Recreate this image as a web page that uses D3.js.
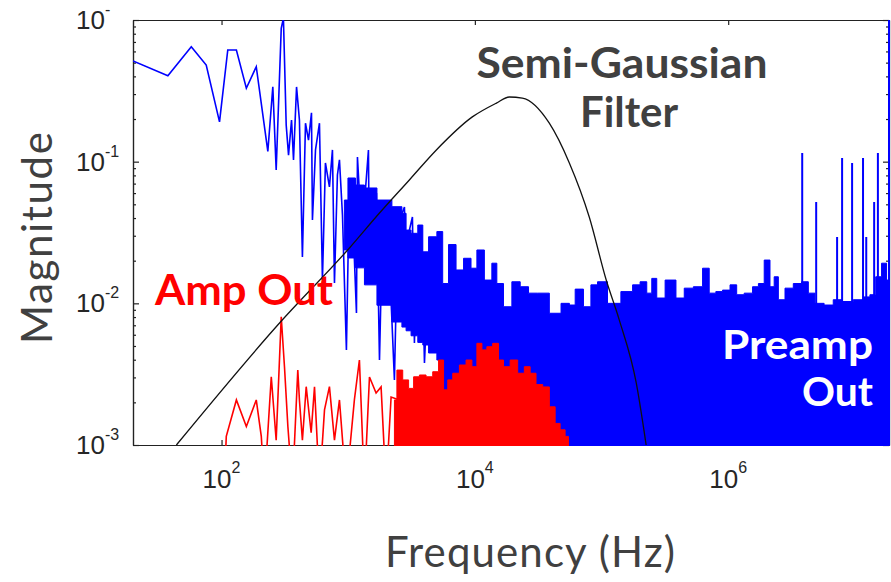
<!DOCTYPE html>
<html lang="en">
<head>
<meta charset="UTF-8">
<title>Magnitude vs Frequency</title>
<script src="https://d3js.org/d3.v7.min.js"></script>
<style>
  body { margin: 0; background: #fff; }
  svg text { font-family: Lato, "Open Sans", sans-serif; }
  .tick-label { font-family: "Liberation Sans", Arial, sans-serif; fill: #262626; }
</style>
</head>
<body>
<svg id="chart" width="891" height="582"></svg>
<script>
// Preamp output: sparse line part (Hz, magnitude)
const preampLineFreq = [20, 37.7, 57.7, 75.7, 96.4, 112, 131, 157, 188, 232, 254, 270, 296, 308, 324, 338, 357, 370, 391, 412,
  435, 460, 486, 513, 522, 552, 593, 626, 661, 711, 751, 779, 822, 853, 901, 968, 1023, 1081, 1162, 1183,
  1273, 1368, 1445, 1472, 1552, 1672, 1766, 1862, 1932, 2113, 2317, 2448, 2633, 2780, 2884, 3042, 3214, 3333, 3519, 3785,
  4000, 4375];
const preampLineMag = [0.514, 0.404, 0.648, 0.481, 0.191, 0.614, 0.614, 0.330, 0.468, 0.118, 0.338, 0.0873, 0.873, 1.03, 0.181, 0.111, 0.197, 0.103, 0.337, 0.197,
  0.0212, 0.187, 0.142, 0.221, 0.0387, 0.121, 0.187, 0.0146, 0.098, 0.0663, 0.121, 0.0139, 0.0805, 0.103, 0.0421, 0.00469, 0.0743, 0.0456, 0.00855, 0.108,
  0.0329, 0.0631, 0.121, 0.0146, 0.0387, 0.0601, 0.00398, 0.0329, 0.0536, 0.0202, 0.00288, 0.028, 0.0421, 0.0479, 0.0111, 0.0329, 0.0407, 0.00525, 0.028, 0.0346,
  0.00379, 0.0238];

// Preamp output: dense (filled) part, top edge and bottom edge of the band
const preampBandFreq = [933, 1062, 1226, 1472, 1932, 2535, 2780, 2951, 3333, 3767, 4000, 4645, 5408, 5741, 6683, 7551, 8776, 9908, 10860, 13010,
  14250, 15600, 18150, 21150, 24590, 28600, 34300, 43700, 52500, 59200, 64800, 80000, 84900, 101800, 122100, 165500, 187000, 217400, 238200, 260800,
  285600, 353300, 423700, 477600, 590500, 667000, 751600, 849000, 959000, 1.115e6, 1.221e6, 1.465e6, 1.655e6, 1.813e6, 2.043e6, 2.237e6, 2.379e6, 2.604e6, 3.029e6, 3.521e6,
  4.103e6, 4.49e6, 5.22e6, 6.26e6, 7.28e6, 8.73e6, 1.081e7, 1.257e7, 1.375e7, 1.552e7, 1.70e7, 1.862e7];
const preampBandHigh = [0.0536, 0.0767, 0.0684, 0.0652, 0.0536, 0.0481, 0.0432, 0.0329, 0.0312, 0.0357, 0.0231, 0.0295, 0.0321, 0.0138, 0.026, 0.0172, 0.0208, 0.0177, 0.0238, 0.0146,
  0.0192, 0.0138, 0.00946, 0.0142, 0.0131, 0.0118, 0.0118, 0.00851, 0.0100, 0.00973, 0.0126, 0.00946, 0.0135, 0.0142, 0.0100, 0.0121, 0.0135, 0.0142, 0.0118, 0.0150,
  0.0109, 0.0146, 0.0109, 0.0128, 0.0131, 0.0177, 0.0118, 0.0121, 0.0124, 0.0135, 0.0115, 0.0118, 0.0131, 0.0138, 0.0202, 0.0131, 0.0154, 0.0106, 0.0128, 0.0138,
  0.0142, 0.0118, 0.0100, 0.00973, 0.0106, 0.0103, 0.0106, 0.0111, 0.0115, 0.0154, 0.0192, 0.0146];
// bottom edge only where the band floats above the axis; elsewhere it runs below it
const preampBandLow = [0.0238, 0.0209, 0.0178, 0.0135, 0.0097, 0.00738, 0.0068, 0.0064, 0.0059, 0.0053, 0.00508, 0.00446, 0.00398];
const belowAxis = 5e-4;

// Preamp output: tall spikes at high frequency
const preampSpikeFreq = [3.84e6, 4.95e6, 7.24e6, 7.93e6, 9.51e6, 1.16e7, 1.23e7, 1.42e7, 1.52e7, 1.86e7];
const preampSpikeMag = [0.115, 0.0519, 0.0294, 0.106, 0.098, 0.106, 0.0294, 0.0519, 0.115, 1.0];

// Amp output: sparse line part
const ampLineFreq = [105, 109, 131, 157, 188, 206, 218, 247, 270, 296, 314, 334, 363, 400, 412, 435, 466, 510, 542, 593,
  650, 711, 779, 853, 964, 1119, 1226, 1343, 1472, 1660, 1818, 1991, 2181, 2535];
const ampLineMag = [0.0005, 0.00115, 0.00208, 0.00135, 0.00208, 0.00115, 0.0005, 0.00303, 0.00108, 0.00805, 0.00357, 0.00135, 0.0005, 0.00338, 0.00208, 0.00108, 0.00258, 0.00122, 0.00258, 0.0005,
  0.00177, 0.00258, 0.00108, 0.00208, 0.0005, 0.00208, 0.00398, 0.0005, 0.00302, 0.00233, 0.00257, 0.0005, 0.00218, 0.00208];

// Amp output: dense (filled) part, top edge
const ampBandFreq = [2317, 2535, 2864, 3138, 3437, 3875, 4375, 4939, 5408, 5925, 6295, 7112, 8017, 9058, 9908, 10860, 11890, 13010, 14690, 16090,
  17620, 20490, 23140, 26110, 28600, 32300, 36460, 41140, 45010, 49300, 53950, 55700];
const ampBandHigh = [0.00208, 0.00338, 0.00288, 0.00251, 0.00303, 0.00312, 0.00303, 0.00329, 0.00398, 0.00245, 0.00288, 0.00321, 0.00367, 0.00398, 0.00357, 0.00522, 0.00469, 0.00494, 0.00522, 0.00398,
  0.00357, 0.00398, 0.00321, 0.00357, 0.00321, 0.00267, 0.00257, 0.00186, 0.00142, 0.00128, 0.00115, 0.0005];

// Semi-Gaussian filter response
const filterFreq = [44, 287, 1023, 1766, 3040, 4966, 9550, 14790, 18710, 23700, 38700, 55700, 80000, 108900, 138000, 188000, 225000];
const filterMag = [0.001, 0.00726, 0.0246, 0.0434, 0.0743, 0.121, 0.207, 0.259, 0.286, 0.281, 0.187, 0.098, 0.0407, 0.0146, 0.00764, 0.00274, 0.001];

// Axis ticks
const xTickValues = [1e2, 1e4, 1e6];
const xTickExp = ["2", "4", "6"];
const yTickValues = [1, 0.1, 0.01, 0.001];
const yTickExp = ["-", "-1", "-2", "-3"];

const margin = {top: 20, right: 1, bottom: 137, left: 133};
const width = 891 - margin.left - margin.right;
const height = 582 - margin.top - margin.bottom;

const svg = d3.select("#chart");
const g = svg.append("g").attr("transform", `translate(${margin.left},${margin.top})`);

const x = d3.scaleLog().domain([20, 1.86e7]).range([0, width - 1]);
const y = d3.scaleLog().domain([1e-3, 1]).range([height, 0]);

// minor ticks on the y axis
const yMinor = [];
[-3, -2, -1].forEach(e => { for (let k = 2; k <= 9; k++) yMinor.push(k * Math.pow(10, e)); });

function styleAxis(sel) {
  sel.selectAll("path, line").attr("stroke", "#222").attr("stroke-width", 1.2);
}

// axes (box)
g.append("g").attr("transform", `translate(0,${height})`)
  .call(d3.axisBottom(x).tickValues(xTickValues).tickSize(-5).tickSizeOuter(0).tickFormat(""))
  .call(styleAxis);
g.append("g")
  .call(d3.axisTop(x).tickValues(xTickValues).tickSize(-5).tickSizeOuter(0).tickFormat(""))
  .call(styleAxis);
g.append("g")
  .call(d3.axisLeft(y).tickValues(yTickValues).tickSize(-6).tickSizeOuter(0).tickFormat(""))
  .call(styleAxis);
g.append("g")
  .call(d3.axisLeft(y).tickValues(yMinor).tickSize(-3).tickSizeOuter(0).tickFormat(""))
  .call(styleAxis);
g.append("g").attr("transform", `translate(${width - 1},0)`)
  .call(d3.axisRight(y).tickValues(yTickValues).tickSize(-6).tickSizeOuter(0).tickFormat(""))
  .call(styleAxis);
g.append("g").attr("transform", `translate(${width - 1},0)`)
  .call(d3.axisRight(y).tickValues(yMinor).tickSize(-3).tickSizeOuter(0).tickFormat(""))
  .call(styleAxis);

// tick labels with superscripts
xTickValues.forEach((v, i) => {
  const t = g.append("text").attr("class", "tick-label")
    .attr("x", x(v)).attr("y", height + 43)
    .attr("text-anchor", "middle").attr("font-size", 26);
  t.append("tspan").text("10");
  t.append("tspan").attr("dy", -15).attr("font-size", 16).text(xTickExp[i]);
});
yTickValues.forEach((v, i) => {
  const t = g.append("text").attr("class", "tick-label")
    .attr("x", 76 - margin.left).attr("y", y(v) + 9)
    .attr("font-size", 26);
  t.append("tspan").text("10");
  t.append("tspan").attr("dy", -14).attr("font-size", 16).text(yTickExp[i]);
});

// plot contents
g.append("clipPath").attr("id", "clip")
  .append("rect").attr("x", 0).attr("y", 0).attr("width", width + 1).attr("height", height + 1);
const plot = g.append("g").attr("clip-path", "url(#clip)");

const bandArea = d3.area()
  .x(d => x(d[0])).y0(d => y(d[1])).y1(d => y(d[2]))
  .curve(d3.curveStep);
const line = d3.line().x(d => x(d[0])).y(d => y(d[1]));

plot.append("path")
  .datum(preampBandFreq.map((f, i) => [f, preampBandLow[i] ?? belowAxis, preampBandHigh[i]]))
  .attr("fill", "#0000ff").attr("stroke", "#0000ff").attr("stroke-width", 1)
  .attr("d", bandArea);

plot.append("path")
  .datum(preampLineFreq.map((f, i) => [f, preampLineMag[i]]))
  .attr("fill", "none").attr("stroke", "#0000ff").attr("stroke-width", 1.6)
  .attr("d", line);

plot.selectAll(".spike")
  .data(preampSpikeFreq.map((f, i) => [f, preampSpikeMag[i]]))
  .enter().append("line")
  .attr("x1", d => x(d[0])).attr("x2", d => x(d[0]))
  .attr("y1", y(1e-3)).attr("y2", d => y(d[1]))
  .attr("stroke", "#0000ff").attr("stroke-width", 2);

plot.append("path")
  .datum(ampBandFreq.map((f, i) => [f, belowAxis, ampBandHigh[i]]))
  .attr("fill", "#ff0000").attr("stroke", "#ff0000").attr("stroke-width", 1)
  .attr("d", bandArea);

plot.append("path")
  .datum(ampLineFreq.map((f, i) => [f, ampLineMag[i]]))
  .attr("fill", "none").attr("stroke", "#ff0000").attr("stroke-width", 1.6)
  .attr("d", line);

plot.append("path")
  .datum(filterFreq.map((f, i) => [f, filterMag[i]]))
  .attr("fill", "none").attr("stroke", "#111").attr("stroke-width", 1.3)
  .attr("d", line.curve(d3.curveMonotoneX));

// axis titles
svg.append("text")
  .attr("transform", "translate(52,238) rotate(-90)")
  .attr("text-anchor", "middle").attr("font-size", 42).attr("fill", "#404040")
  .attr("textLength", 212)
  .text("Magnitude");
svg.append("text")
  .attr("x", 530).attr("y", 567)
  .attr("text-anchor", "middle").attr("font-size", 42).attr("fill", "#404040")
  .attr("textLength", 290)
  .text("Frequency (Hz)");

// annotations
function note(txt, xPos, yPos, anchor, color, len, size) {
  svg.append("text")
    .attr("x", xPos).attr("y", yPos)
    .attr("text-anchor", anchor).attr("font-size", size).attr("font-weight", "bold")
    .attr("fill", color).attr("textLength", len).attr("lengthAdjust", "spacingAndGlyphs")
    .text(txt);
}
note("Semi-Gaussian", 622, 78, "middle", "#404040", 291, 42);
note("Filter", 629, 127, "middle", "#404040", 98, 42);
note("Amp Out", 244, 305, "middle", "#ff0000", 178, 42);
note("Preamp", 873, 359, "end", "#ffffff", 151, 40);
note("Out", 873, 406, "end", "#ffffff", 71, 40);
</script>
</body>
</html>
